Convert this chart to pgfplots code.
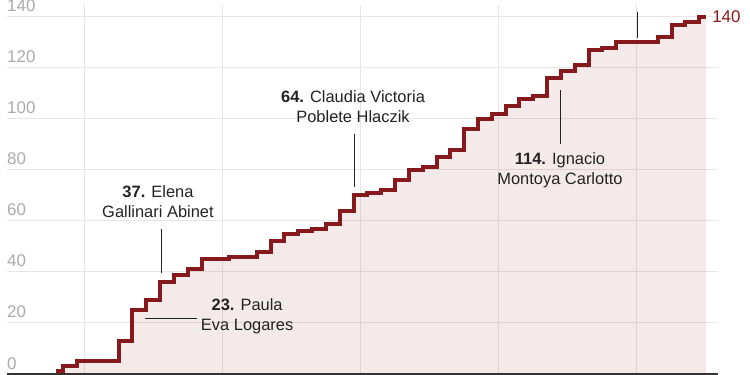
\documentclass[border=0pt]{standalone}
\usepackage{pgfplots}
\pgfplotsset{compat=1.18}
\usepackage{pgfplotstable}
\usepackage{fontspec}
\setmainfont{Liberation Sans}
\definecolor{maroon}{HTML}{85191B}
\definecolor{annot}{HTML}{222222}
\definecolor{tickgray}{HTML}{AAAAAA}
\definecolor{gridgray}{HTML}{E6E6E6}
\pgfplotstableread{
year value
1978 1
1979 3
1980 5
1981 5
1982 5
1983 13
1984 25
1985 29
1986 36
1987 39
1988 41
1989 45
1990 45
1991 46
1992 46
1993 48
1994 52
1995 55
1996 56
1997 57
1998 59
1999 64
2000 70
2001 71
2002 72
2003 76
2004 80
2005 81
2006 85
2007 88
2008 96
2009 100
2010 102
2011 105
2012 108
2013 109
2014 116
2015 119
2016 121
2017 127
2018 128
2019 130
2020 130
2021 130
2022 132
2023 137
2024 138
2025 140
}\datatable
\begin{document}
\begin{tikzpicture}
\begin{axis}[
  at={(7bp,1bp)}, anchor=south west,
  scale only axis, width=711bp, height=369bp,
  xmin=1974.43, xmax=2025.86,
  ymin=0, ymax=144.7,
  clip=false,
  axis x line*=bottom, axis y line*=left,
  x axis line style={-, color=black!80, line width=1.4bp},
  y axis line style={draw=none},
  xtick={1980,1990,2000,2010,2020},
  xticklabels={},
  ytick={0,20,...,140},
  major tick length=0pt,
  tick style={draw=none},
  grid=major,
  major grid style={color=gridgray, line width=1bp},
  /pgf/number format/assume math mode=true,
  yticklabel style={anchor=base west, inner sep=0pt, yshift=5bp,
    font=\fontsize{17}{17}\selectfont, text=tickgray},
]
\addplot[draw=none, fill=maroon, fill opacity=0.09, const plot mark mid]
  table[x=year, y=value] {\datatable} \closedcycle;
\addplot[maroon, line width=4bp, const plot mark mid, line join=miter]
  table[x=year, y=value] {\datatable};
% annotation leader lines
\draw[annot, line width=1bp] (axis cs:1984.41,21.6) -- (axis cs:1988.17,21.6);
\draw[annot, line width=1bp] (axis cs:1985.64,56.9) -- (axis cs:1985.64,39.6);
\draw[annot, line width=1bp] (axis cs:1999.60,94.1) -- (axis cs:1999.60,73.3);
\draw[annot, line width=1bp] (axis cs:2014.50,111.4) -- (axis cs:2014.50,90.2);
\draw[annot, line width=1bp] (axis cs:2020.07,142.0) -- (axis cs:2020.07,131.8);
% annotation labels
\tikzset{lab/.style={align=center, text=annot, inner sep=1pt, font=\fontsize{16.5}{20}\selectfont}}
\node[lab] at (axis cs:1991.8,22.6) {\textbf{23.} Paula\\Eva Logares};
\node[lab] at (axis cs:1985.35,67.7) {\textbf{37.} Elena\\Gallinari Abinet};
\node[lab] at (axis cs:1999.46,104.9) {\textbf{64.} Claudia Victoria\\Poblete Hlaczik};
\node[lab] at (axis cs:2014.43,79.8) {\textbf{114.} Ignacio\\Montoya Carlotto};
\node[anchor=west, inner sep=0pt, text=maroon, font=\fontsize{17}{17}\selectfont, xshift=6bp] at (axis cs:2025,140) {140};
\end{axis}
\pgfresetboundingbox
\path[use as bounding box] (0,0) rectangle (750bp,375bp);
\end{tikzpicture}
\end{document}
